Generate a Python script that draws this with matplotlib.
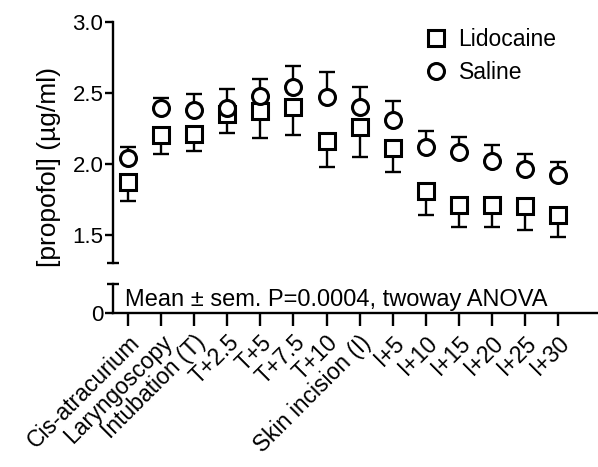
import numpy as np
import matplotlib
matplotlib.use("Agg")
import matplotlib.pyplot as plt

plt.rcParams['font.family'] = ['Liberation Sans', 'DejaVu Sans']

labels = ['Cis-atracurium', 'Laryngoscopy', 'Intubation (T)', 'T+2.5', 'T+5', 'T+7.5',
          'T+10', 'Skin incision (I)', 'I+5', 'I+10', 'I+15', 'I+20', 'I+25', 'I+30']
lido_mean = [1.87, 2.20, 2.21, 2.35, 2.37, 2.40, 2.16, 2.26, 2.11, 1.81, 1.71, 1.71, 1.70, 1.64]
lido_sem = [0.13, 0.13, 0.12, 0.13, 0.19, 0.20, 0.18, 0.21, 0.17, 0.17, 0.16, 0.16, 0.17, 0.16]
sal_mean = [2.04, 2.39, 2.38, 2.39, 2.48, 2.54, 2.47, 2.40, 2.31, 2.12, 2.08, 2.02, 1.96, 1.92]
sal_sem = [0.08, 0.07, 0.11, 0.14, 0.12, 0.15, 0.18, 0.14, 0.13, 0.11, 0.11, 0.11, 0.11, 0.09]

x = np.arange(len(labels))
lw = 1.7

fig = plt.figure(figsize=(5.98, 4.67), dpi=100)
ax = fig.add_axes([0.189, 0.437, 0.811, 0.516])
axb = fig.add_axes([0.189, 0.330, 0.811, 0.062])

# upper part of the broken axis
z = np.zeros(len(x))
ax.errorbar(x, lido_mean, yerr=[lido_sem, z], fmt='none', ecolor='black',
            elinewidth=lw, capsize=5.5, capthick=lw)
ax.errorbar(x, sal_mean, yerr=[z, sal_sem], fmt='none', ecolor='black',
            elinewidth=lw, capsize=5.5, capthick=lw)
ax.plot(x, lido_mean, 's', ms=11.5, mfc='white', mec='black', mew=2.2, label='Lidocaine')
ax.plot(x, sal_mean, 'o', ms=11.5, mfc='white', mec='black', mew=2.2, label='Saline')

ax.set_xlim(-0.45, 14.2)
ax.set_ylim(1.3, 3.0)
ax.set_yticks([1.5, 2.0, 2.5, 3.0])
ax.set_xticks([])
for s in ['top', 'right', 'bottom']:
    ax.spines[s].set_visible(False)
ax.spines['left'].set_linewidth(lw)
ax.tick_params(axis='y', width=lw, length=6, labelsize=16, pad=1)
ax.plot([0], [0], marker='_', ms=8, mew=lw, color='black',
        transform=ax.transAxes, clip_on=False)

# lower part
axb.set_xlim(-0.45, 14.2)
axb.set_ylim(0, 0.204)
axb.set_yticks([0])
axb.set_xticks(x)
axb.set_xticklabels(labels, rotation=45, ha='right', va='top', rotation_mode='anchor')
for s in ['top', 'right']:
    axb.spines[s].set_visible(False)
axb.spines['left'].set_linewidth(lw)
axb.spines['bottom'].set_linewidth(lw)
axb.tick_params(axis='y', width=lw, length=6, labelsize=16, pad=1)
axb.tick_params(axis='x', width=lw, length=9, labelsize=16.5, pad=4)
axb.plot([0], [1], marker='_', ms=8, mew=lw, color='black',
         transform=axb.transAxes, clip_on=False)
axb.text(0.025, 0.45, 'Mean \u00b1 sem. P=0.0004, twoway ANOVA', transform=axb.transAxes,
         fontsize=17, va='center', ha='left')

fig.text(0.082, 1 - 167 / 467, '[propofol] (\u00b5g/ml)', rotation=90, fontsize=19,
         ha='center', va='center')

ax.legend(loc='upper left', bbox_to_anchor=(415 / 598, 1 - 19 / 467),
          bbox_transform=fig.transFigure, frameon=False, fontsize=16.5,
          handlelength=1.0, handletextpad=0.5, labelspacing=0.45, borderaxespad=0)

fig.savefig('out.png', dpi=100)
